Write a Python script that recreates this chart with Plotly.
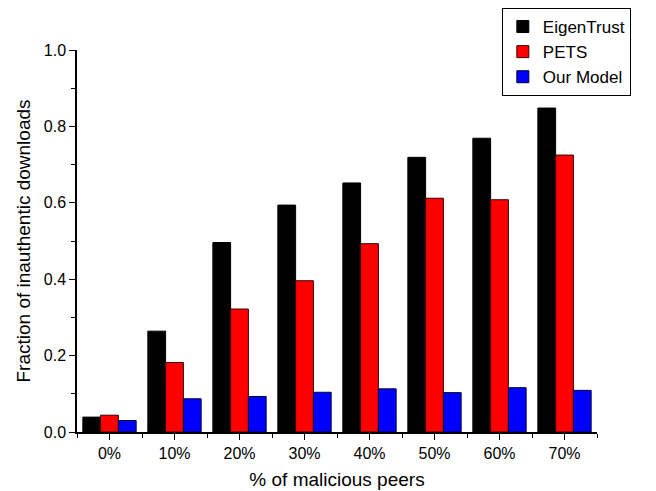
import plotly.graph_objects as go

# Percentage of malicious peers in the network
categories = ["0%", "10%", "20%", "30%", "40%", "50%", "60%", "70%"]

# Fraction of inauthentic downloads per trust model
eigentrust = [0.039, 0.264, 0.496, 0.594, 0.652, 0.719, 0.769, 0.848]
pets = [0.044, 0.182, 0.322, 0.396, 0.493, 0.612, 0.608, 0.725]
our_model = [0.030, 0.087, 0.093, 0.104, 0.113, 0.103, 0.116, 0.109]

y_ticks = [0.0, 0.2, 0.4, 0.6, 0.8, 1.0]

x_pos = list(range(len(categories)))
font_family = "Liberation Sans, Arial, sans-serif"

fig = go.Figure()
series = [
    ("EigenTrust", eigentrust, "#000000", "#000000"),
    ("PETS", pets, "#ff0000", "#3a0000"),
    ("Our Model", our_model, "#0000ff", "#00003a"),
]
for name, vals, fill, edge in series:
    fig.add_trace(go.Bar(
        x=x_pos, y=vals, name=name,
        marker=dict(color=fill, line=dict(color=edge, width=1)),
    ))

fig.update_layout(
    barmode="group",
    bargap=0.18,
    bargroupgap=0,
    width=656, height=491,
    margin=dict(l=77, r=59, t=50, b=59, autoexpand=False),
    plot_bgcolor="white",
    paper_bgcolor="white",
    font=dict(family=font_family, size=16, color="#000000"),
    legend=dict(
        x=0.817, y=1.11, xanchor="left", yanchor="top",
        bordercolor="#000000", borderwidth=1,
        bgcolor="white",
        font=dict(size=17),
        itemwidth=30,
        tracegroupgap=0,
    ),
)

fig.update_xaxes(
    range=[-0.5, 7.5],
    tickmode="array", tickvals=x_pos, ticktext=categories,
    ticks="outside", ticklen=6, tickwidth=1, tickcolor="#000000",
    minor=dict(tickmode="linear", tick0=0.5, dtick=1, ticks="outside",
               ticklen=4, tickcolor="#000000"),
    showline=True, linecolor="#000000", linewidth=1.5,
    showgrid=False, zeroline=False,
    automargin=False,
    title=dict(text="% of malicious peers", font=dict(size=19), standoff=12),
    tickfont=dict(size=16),
)

fig.update_yaxes(
    range=[0, 1.0],
    tickmode="array", tickvals=y_ticks,
    ticktext=[f"{v:.1f}" for v in y_ticks],
    ticks="outside", ticklen=6, tickwidth=1, tickcolor="#000000",
    minor=dict(tickmode="linear", tick0=0.1, dtick=0.2, ticks="outside",
               ticklen=4, tickcolor="#000000"),
    showline=True, linecolor="#000000", linewidth=1.5,
    showgrid=False, zeroline=False,
    automargin=False,
    title=dict(text="Fraction of inauthentic downloads", font=dict(size=19), standoff=8),
    tickfont=dict(size=16),
)

fig.write_html("out.html")
